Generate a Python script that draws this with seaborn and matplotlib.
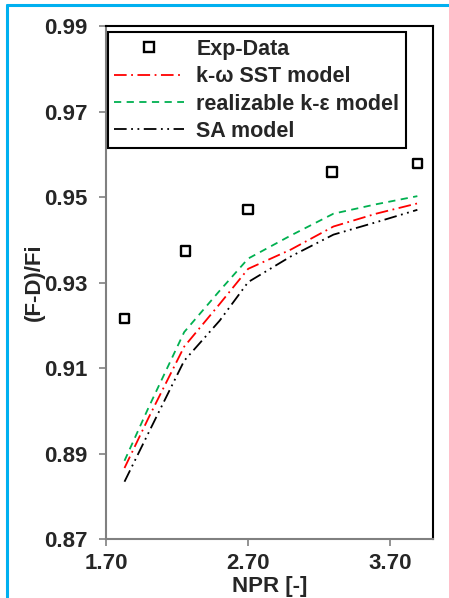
import matplotlib
matplotlib.use("Agg")
import matplotlib.pyplot as plt
from matplotlib.lines import Line2D
import seaborn as sns
import pandas as pd
import numpy as np

# ---- data ----
exp_npr = [1.83, 2.26, 2.70, 3.29, 3.89]
exp_val = [0.9216, 0.9373, 0.9471, 0.9558, 0.9578]

cfd_npr = [1.83, 2.00, 2.25, 2.50, 2.70, 3.00, 3.30, 3.60, 3.89]
sst_val = [0.8866, 0.8984, 0.9150, 0.9250, 0.9332, 0.9377, 0.9431, 0.9461, 0.9485]
rke_val = [0.8883, 0.9008, 0.9184, 0.9281, 0.9356, 0.9410, 0.9461, 0.9483, 0.9502]
sa_val = [0.8834, 0.8949, 0.9117, 0.9211, 0.9301, 0.9361, 0.9412, 0.9441, 0.9470]

labels = ["Exp-Data", "k-ω SST model", "realizable k-ε model", "SA model"]
yticks = [0.87, 0.89, 0.91, 0.93, 0.95, 0.97, 0.99]
xticks = [1.70, 2.70, 3.70]

sns.set_theme(style="white")
plt.rcParams['font.family'] = ['Liberation Sans', 'DejaVu Sans']
plt.rcParams['font.weight'] = 'bold'

FS = 16
LFS = 15.5

fig = plt.figure(figsize=(4.49, 5.98), dpi=100)
ax = fig.add_axes([106/449, 1-539/598, (433-106)/449, (539-26)/598])

df = pd.DataFrame({
    "NPR": cfd_npr * 3,
    "val": sst_val + rke_val + sa_val,
    "model": [labels[1]] * len(cfd_npr) + [labels[2]] * len(cfd_npr) + [labels[3]] * len(cfd_npr),
})
palette = {labels[1]: "#FF0000", labels[2]: "#00B050", labels[3]: "#000000"}
dashes = {labels[1]: (7, 2.5, 1, 2.5), labels[2]: (4, 3), labels[3]: (7, 2.5, 1, 2.5, 1, 2.5)}
sns.lineplot(data=df, x="NPR", y="val", hue="model", style="model", palette=palette,
             dashes=dashes, linewidth=1.3, ax=ax, legend=False, sort=False)

edf = pd.DataFrame({"NPR": exp_npr, "val": exp_val})
sns.scatterplot(data=edf, x="NPR", y="val", marker="s", s=48, facecolor="none",
                edgecolor="black", linewidth=1.7, ax=ax, legend=False, zorder=5)

ax.set_xlim(1.70, 4.0)
ax.set_ylim(0.87, 0.99)
ax.set_xticks(xticks)
ax.set_xticklabels([f"{v:.2f}" for v in xticks])
ax.set_yticks(yticks)
ax.set_yticklabels([f"{v:.2f}" for v in yticks])
ax.tick_params(axis="both", which="both", direction="out", length=5, width=1.2,
               color="#808080", labelsize=FS, left=True, bottom=True)
ax.tick_params(axis="y", pad=8)
ax.tick_params(axis="x", pad=5)
for lab in ax.get_xticklabels() + ax.get_yticklabels():
    lab.set_fontweight("bold")

for s in ["left", "bottom"]:
    ax.spines[s].set_color("#808080")
    ax.spines[s].set_linewidth(1.5)
for s in ["top", "right"]:
    ax.spines[s].set_color("#000000")
    ax.spines[s].set_linewidth(1.5)

ax.set_xlabel("NPR [-]", fontsize=FS, fontweight="bold", labelpad=1.5)
ax.set_ylabel("(F-D)/Fi", fontsize=FS, fontweight="bold", labelpad=0)

handles = [
    Line2D([], [], marker="s", linestyle="none", markerfacecolor="none",
           markeredgecolor="black", markeredgewidth=1.7, markersize=7),
    Line2D([], [], color="#FF0000", linewidth=1.3, dashes=dashes[labels[1]]),
    Line2D([], [], color="#00B050", linewidth=1.3, dashes=dashes[labels[2]]),
    Line2D([], [], color="#000000", linewidth=1.3, dashes=dashes[labels[3]]),
]
leg = ax.legend(handles, labels, loc="upper left", bbox_to_anchor=(0.006, 0.988),
                borderaxespad=0, frameon=True, fancybox=False, edgecolor="black",
                handlelength=3.25, handletextpad=0.55, labelspacing=0.3,
                borderpad=0.3, prop={"weight": "bold", "size": LFS})
leg.get_frame().set_linewidth(1.5)
leg.get_frame().set_alpha(1)

# light blue frame lines of the original image
fig.add_artist(Line2D([7/449, 1.0], [1-5/598, 1-5/598], transform=fig.transFigure,
                      color="#00B0F0", linewidth=2.2))
fig.add_artist(Line2D([7/449, 7/449], [0.0, 1-5/598], transform=fig.transFigure,
                      color="#00B0F0", linewidth=2.2))

fig.savefig("out.png", dpi=100)
